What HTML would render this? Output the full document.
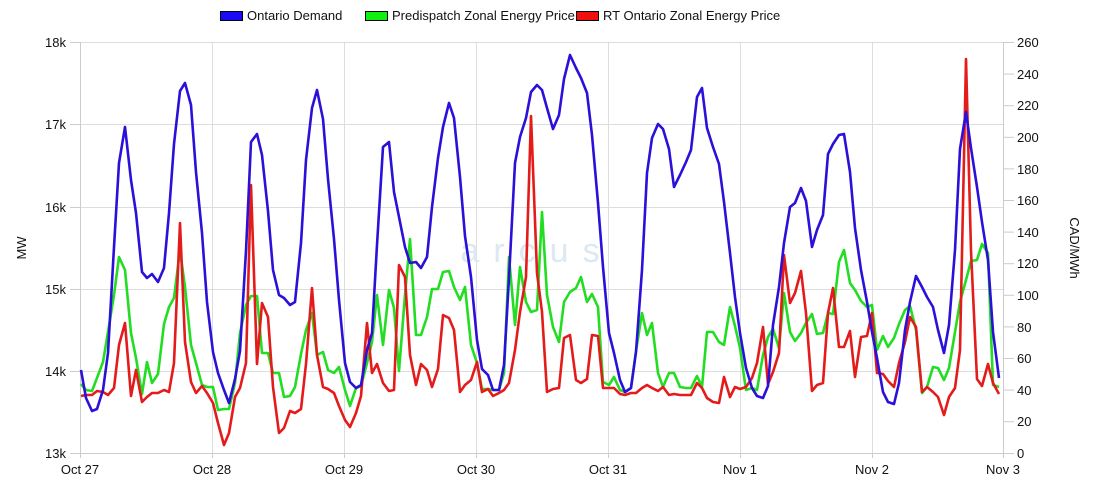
<!DOCTYPE html>
<html><head><meta charset="utf-8"><style>
html,body{margin:0;padding:0;background:#fff;}
svg{display:block;font-family:"Liberation Sans",Arial,sans-serif;}
</style></head><body>
<svg width="1100" height="500" viewBox="0 0 1100 500" xmlns="http://www.w3.org/2000/svg">
<rect width="1100" height="500" fill="#fff"/>
<g stroke="#dddddd" stroke-width="1">
<line x1="80" y1="42.5" x2="1003" y2="42.5"/><line x1="80" y1="124.5" x2="1003" y2="124.5"/><line x1="80" y1="207.5" x2="1003" y2="207.5"/><line x1="80" y1="289.5" x2="1003" y2="289.5"/><line x1="80" y1="371.5" x2="1003" y2="371.5"/>
<line x1="212.5" y1="42" x2="212.5" y2="453"/><line x1="344.5" y1="42" x2="344.5" y2="453"/><line x1="476.5" y1="42" x2="476.5" y2="453"/><line x1="608.5" y1="42" x2="608.5" y2="453"/><line x1="740.5" y1="42" x2="740.5" y2="453"/><line x1="872.5" y1="42" x2="872.5" y2="453"/>
</g>
<g stroke="#cccccc" stroke-width="1">
<line x1="80.5" y1="42" x2="80.5" y2="458"/><line x1="1003.5" y1="42" x2="1003.5" y2="458"/>
<line x1="70" y1="453.5" x2="1014" y2="453.5"/>
<line x1="70" y1="42.5" x2="80" y2="42.5"/><line x1="70" y1="124.5" x2="80" y2="124.5"/><line x1="70" y1="207.5" x2="80" y2="207.5"/><line x1="70" y1="289.5" x2="80" y2="289.5"/><line x1="70" y1="371.5" x2="80" y2="371.5"/>
<line x1="212.5" y1="453" x2="212.5" y2="458"/><line x1="344.5" y1="453" x2="344.5" y2="458"/><line x1="476.5" y1="453" x2="476.5" y2="458"/><line x1="608.5" y1="453" x2="608.5" y2="458"/><line x1="740.5" y1="453" x2="740.5" y2="458"/><line x1="872.5" y1="453" x2="872.5" y2="458"/>
<line x1="1003" y1="42.5" x2="1014" y2="42.5"/><line x1="1003" y1="74.1" x2="1014" y2="74.1"/><line x1="1003" y1="105.7" x2="1014" y2="105.7"/><line x1="1003" y1="137.3" x2="1014" y2="137.3"/><line x1="1003" y1="168.9" x2="1014" y2="168.9"/><line x1="1003" y1="200.5" x2="1014" y2="200.5"/><line x1="1003" y1="232.1" x2="1014" y2="232.1"/><line x1="1003" y1="263.7" x2="1014" y2="263.7"/><line x1="1003" y1="295.3" x2="1014" y2="295.3"/><line x1="1003" y1="326.9" x2="1014" y2="326.9"/><line x1="1003" y1="358.5" x2="1014" y2="358.5"/><line x1="1003" y1="390.1" x2="1014" y2="390.1"/><line x1="1003" y1="421.7" x2="1014" y2="421.7"/>
</g>
<text x="537" y="262" font-size="34" fill="#dce8f2" text-anchor="middle" letter-spacing="14">arcus</text>
<g font-size="13" fill="#111">
<g text-anchor="end"><text x="66" y="47">18k</text><text x="66" y="129">17k</text><text x="66" y="212">16k</text><text x="66" y="294">15k</text><text x="66" y="376">14k</text><text x="66" y="458">13k</text></g>
<g text-anchor="start"><text x="1017" y="47">260</text><text x="1017" y="79">240</text><text x="1017" y="110">220</text><text x="1017" y="142">200</text><text x="1017" y="174">180</text><text x="1017" y="205">160</text><text x="1017" y="237">140</text><text x="1017" y="268">120</text><text x="1017" y="300">100</text><text x="1017" y="332">80</text><text x="1017" y="363">60</text><text x="1017" y="395">40</text><text x="1017" y="426">20</text><text x="1017" y="458">0</text></g>
<g text-anchor="middle"><text x="80" y="474">Oct 27</text><text x="212" y="474">Oct 28</text><text x="344" y="474">Oct 29</text><text x="476" y="474">Oct 30</text><text x="608" y="474">Oct 31</text><text x="740" y="474">Nov 1</text><text x="872" y="474">Nov 2</text><text x="1003" y="474">Nov 3</text></g>
<text transform="translate(26,248) rotate(-90)" text-anchor="middle">MW</text>
<text transform="translate(1070,248) rotate(90)" text-anchor="middle">CAD/MWh</text>
<rect x="220.5" y="11.5" width="22" height="9" fill="#1a0af5" stroke="#000"/><text x="247" y="20">Ontario Demand</text>
<rect x="365.5" y="11.5" width="22" height="9" fill="#10f010" stroke="#000"/><text x="392" y="20">Predispatch Zonal Energy Price</text>
<rect x="576.5" y="11.5" width="22" height="9" fill="#f01010" stroke="#000"/><text x="603" y="20">RT Ontario Zonal Energy Price</text>
</g>
<g fill="none" stroke-width="2.6" stroke-linejoin="round">
<polyline stroke="#22dd22" points="81,384 86,390 92,391 97,378 103,362 108,332 114,295 119,257 125,270 131,333 136,358 142,394 147,362 152,383 158,374 164,324 169,307 174,298 180,250 185,287 191,345 196,363 202,385 207,387 213,387 218,410 224,409 229,409 235,383 240,333 246,305 251,296 257,296 262,353 268,353 273,373 279,373 284,397 290,396 295,387 301,354 306,330 312,313 317,355 323,352 328,370 334,373 339,367 345,390 350,406 356,388 361,386 367,363 372,342 377,295 383,345 389,290 394,308 399,371 405,295 410,239 416,335 421,335 427,317 432,289 438,289 443,272 449,271 454,287 460,300 465,287 471,345 477,363 482,389 488,389 493,390 499,390 504,373 509,257 515,325 520,267 526,302 531,312 537,310 542,212 547,295 553,327 559,342 564,302 570,292 576,288 581,277 587,302 592,294 598,307 603,382 609,385 614,377 620,390 625,392 631,388 636,351 642,313 647,335 652,323 658,373 663,387 669,373 674,373 680,387 686,388 691,388 697,376 702,387 707,332 713,332 719,342 724,345 730,307 735,326 740,348 746,390 752,388 757,390 763,355 768,337 773,329 779,348 784,293 790,332 795,341 801,333 806,323 812,314 817,334 823,333 828,313 833,314 839,262 844,250 850,283 855,290 861,301 867,307 872,305 877,350 883,336 888,347 894,338 899,324 905,310 910,306 916,330 922,393 927,387 933,367 938,368 944,380 949,368 955,332 960,302 966,280 971,261 977,260 982,244 988,253 993,385 999,387"/>
<polyline stroke="#e41b1b" points="81,396 86,395 92,395 97,391 103,392 108,395 114,388 119,345 125,323 131,396 136,370 142,402 147,397 152,393 158,393 164,390 169,392 174,363 180,223 185,342 191,382 196,393 202,386 207,393 213,403 218,423 224,445 229,433 235,397 240,388 246,363 251,185 257,364 262,303 268,317 273,387 279,433 284,428 290,411 295,413 301,409 306,364 312,288 317,355 323,387 328,389 334,393 339,406 345,420 350,427 356,413 361,396 367,323 372,373 377,364 383,383 389,391 394,390 399,265 405,277 410,355 416,385 421,364 427,370 432,387 438,369 443,315 449,318 454,330 460,392 465,385 471,380 477,362 482,392 488,389 493,396 499,393 504,390 509,383 515,350 520,312 526,277 531,116 537,273 542,312 547,392 553,389 559,388 564,338 570,335 576,380 581,383 587,379 592,335 598,336 603,388 609,388 614,388 620,394 625,395 631,393 636,393 642,388 647,385 652,388 658,391 663,387 669,395 674,394 680,395 686,395 691,395 697,383 702,388 707,398 713,402 719,403 724,377 730,397 735,387 740,389 746,387 752,378 757,363 763,327 768,384 773,372 779,353 784,255 790,303 795,293 801,271 806,313 812,391 817,385 823,383 828,313 833,288 839,347 844,347 850,331 855,377 861,337 867,336 872,313 877,373 883,374 888,381 894,387 899,363 905,342 910,317 916,327 922,392 927,387 933,392 938,397 944,415 949,397 955,388 960,350 966,59 971,251 977,379 982,386 988,364 993,383 999,394"/>
<polyline stroke="#2a10d8" points="81,370 86,398 92,411 97,409 103,390 108,353 114,247 119,163 125,127 131,180 136,213 142,272 147,278 152,274 158,282 164,268 169,213 174,144 180,91 185,83 191,105 196,172 202,233 207,302 213,352 218,373 224,390 229,403 235,379 240,351 246,251 251,142 257,134 262,155 268,211 273,270 279,295 284,298 290,305 295,302 301,243 306,160 312,108 317,90 323,119 328,179 334,239 339,300 345,363 350,382 356,388 361,385 367,350 372,333 377,245 383,147 389,142 394,192 399,217 405,247 410,263 416,262 421,268 427,257 432,207 438,158 443,127 449,103 454,118 460,177 465,236 471,277 477,340 482,369 488,375 493,390 499,390 504,365 509,278 515,163 520,137 526,118 531,92 537,85 542,90 547,108 553,129 559,115 564,79 570,55 576,68 581,78 587,93 592,135 598,203 603,267 609,333 614,353 620,380 625,392 631,388 636,352 642,270 647,173 652,138 658,124 663,129 669,149 674,187 680,175 686,162 691,150 697,97 702,88 707,128 713,147 719,164 724,202 730,253 735,297 740,333 746,368 752,388 757,396 763,398 768,386 773,325 779,287 784,243 790,207 795,203 801,188 806,201 812,247 817,230 823,215 828,154 833,144 839,135 844,134 850,172 855,228 861,270 867,302 872,332 877,358 883,392 888,402 894,404 899,383 905,330 910,302 916,276 922,287 927,297 933,307 938,330 944,353 949,325 955,250 960,149 966,112 971,148 977,187 982,222 988,260 993,332 999,378"/>
</g>
</svg>
</body></html>
